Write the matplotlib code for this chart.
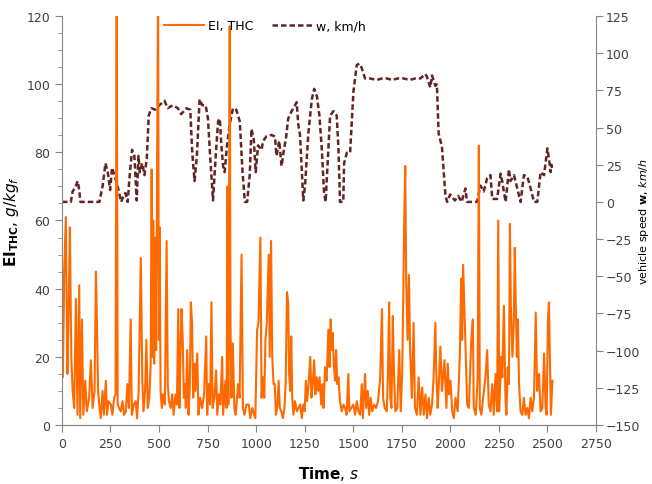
import numpy as np
import matplotlib.pyplot as plt
from matplotlib.ticker import MultipleLocator

# EI THC, g/kg_f
t_ei = [0, 5, 12, 20, 28, 35, 41, 48, 55, 63, 72, 80, 89, 94, 103, 110, 120, 128, 140, 149,
        158, 168, 175, 180, 186, 192, 200, 209, 216, 226, 232, 240, 252, 260, 269, 276, 282, 287, 294, 303,
        312, 320, 329, 337, 345, 354, 360, 370, 380, 387, 395, 406, 414, 420, 428, 435, 442, 450, 457, 462,
        466, 470, 475, 480, 485, 495, 499, 503, 508, 514, 520, 530, 539, 545, 551, 560, 568, 575, 585, 592,
        599, 605, 611, 616, 622, 628, 633, 638, 645, 652, 658, 664, 670, 676, 683, 688, 697, 703, 712, 722,
        732, 743, 748, 755, 763, 770, 776, 785, 794, 800, 808, 816, 825, 830, 836, 842, 848, 853, 857, 864,
        868, 873, 880, 888, 895, 907, 915, 925, 932, 940, 950, 962, 970, 980, 990, 996, 1005, 1012, 1022, 1028,
        1035, 1042, 1048, 1055, 1065, 1070, 1077, 1083, 1090, 1096, 1102, 1110, 1116, 1122, 1130, 1138, 1146, 1152, 1159, 1165,
        1170, 1176, 1181, 1186, 1192, 1200, 1210, 1218, 1227, 1235, 1243, 1250, 1256, 1263, 1270, 1279, 1285, 1292, 1299, 1305,
        1312, 1320, 1327, 1335, 1341, 1347, 1355, 1363, 1372, 1378, 1384, 1390, 1394, 1400, 1406, 1412, 1418, 1424, 1432, 1441,
        1450, 1458, 1466, 1475, 1480, 1490, 1500, 1510, 1518, 1527, 1536, 1544, 1550, 1561, 1567, 1575, 1582, 1590, 1598, 1608,
        1618, 1628, 1639, 1648, 1654, 1662, 1673, 1679, 1685, 1691, 1697, 1704, 1710, 1717, 1727, 1737, 1745, 1752, 1756, 1763,
        1768, 1773, 1780, 1787, 1793, 1802, 1811, 1818, 1828, 1837, 1846, 1855, 1863, 1872, 1880, 1889, 1897, 1906, 1914, 1923,
        1928, 1935, 1940, 1949, 1957, 1970, 1980, 1987, 1994, 2001, 2010, 2018, 2027, 2038, 2049, 2056, 2061, 2066, 2073, 2080,
        2087, 2096, 2107, 2116, 2121, 2131, 2141, 2147, 2152, 2160, 2169, 2181, 2190, 2198, 2207, 2216, 2224, 2233, 2241, 2247,
        2252, 2262, 2268, 2276, 2284, 2289, 2296, 2302, 2307, 2312, 2320, 2327, 2332, 2337, 2343, 2348, 2354, 2362, 2371, 2379,
        2388, 2397, 2405, 2414, 2422, 2431, 2440, 2447, 2457, 2465, 2474, 2483, 2491, 2496, 2503, 2508, 2514, 2518, 2526]
ei_thc = [54, 14, 45, 61, 15, 35, 58, 20, 10, 5, 37, 3, 41, 2, 31, 3, 13, 4, 8, 19,
          5, 10, 45, 31, 10, 6, 2, 10, 3, 13, 3, 7, 6, 3, 8, 9, 130, 6, 5, 4,
          7, 3, 4, 12, 5, 31, 3, 6, 7, 2, 10, 49, 13, 4, 10, 25, 5, 8, 18, 75,
          20, 60, 18, 55, 22, 130, 25, 58, 10, 5, 9, 6, 54, 12, 7, 5, 9, 3, 9, 6,
          34, 5, 22, 34, 25, 8, 12, 5, 22, 3, 10, 36, 30, 8, 18, 10, 21, 3, 8, 5,
          9, 26, 3, 12, 6, 36, 5, 8, 16, 3, 9, 6, 20, 3, 8, 13, 5, 70, 6, 117,
          30, 8, 24, 5, 3, 12, 8, 50, 5, 3, 6, 6, 2, 5, 3, 2, 28, 30, 55, 8,
          14, 8, 25, 30, 50, 20, 54, 20, 12, 12, 3, 6, 13, 5, 4, 2, 5, 12, 39, 36,
          15, 10, 26, 8, 3, 7, 4, 5, 6, 2, 6, 4, 13, 7, 12, 20, 8, 12, 19, 9,
          14, 10, 14, 6, 12, 5, 17, 13, 28, 17, 31, 22, 27, 18, 13, 22, 12, 14, 7, 4,
          6, 5, 3, 15, 4, 5, 6, 3, 7, 4, 3, 12, 2, 15, 5, 10, 3, 8, 4, 6,
          5, 7, 14, 34, 8, 5, 4, 15, 36, 8, 5, 32, 15, 4, 5, 22, 4, 15, 30, 61,
          76, 42, 25, 44, 22, 8, 30, 5, 3, 14, 3, 11, 3, 9, 2, 8, 3, 6, 14, 30,
          15, 5, 11, 23, 10, 19, 5, 18, 9, 13, 4, 2, 8, 4, 20, 43, 25, 47, 33, 18,
          6, 5, 24, 31, 5, 3, 14, 82, 5, 3, 8, 14, 22, 6, 4, 12, 3, 15, 4, 60,
          4, 20, 14, 35, 8, 3, 17, 12, 59, 35, 20, 30, 52, 36, 20, 31, 12, 4, 3, 8,
          3, 5, 2, 8, 4, 8, 33, 10, 15, 4, 5, 21, 5, 3, 31, 36, 15, 3, 13]

# vehicle speed w, km/h
t_w = [0, 46, 55, 69, 81, 89, 95, 193, 210, 224, 236, 248, 258, 270, 282, 293, 305, 314, 327, 339,
       347, 361, 373, 385, 394, 401, 413, 425, 437, 447, 460, 480, 502, 528, 545, 571, 597, 614, 640, 661,
       671, 683, 695, 709, 723, 740, 752, 764, 778, 792, 804, 813, 821, 830, 838, 850, 864, 881, 898, 916,
       930, 942, 954, 967, 976, 988, 998, 1010, 1028, 1036, 1053, 1079, 1097, 1105, 1119, 1131, 1143, 1153, 1165, 1183,
       1200, 1209, 1217, 1226, 1235, 1243, 1252, 1269, 1287, 1299, 1313, 1326, 1338, 1350, 1358, 1366, 1381, 1398, 1415, 1424,
       1432, 1449, 1453, 1467, 1484, 1501, 1518, 1532, 1544, 1561, 1587, 1620, 1650, 1673, 1700, 1730, 1760, 1790, 1820, 1846,
       1872, 1880, 1897, 1906, 1923, 1931, 1940, 1957, 1975, 1984, 1999, 2024, 2041, 2058, 2078, 2086, 2138, 2155, 2172, 2190,
       2207, 2216, 2241, 2259, 2267, 2285, 2302, 2310, 2328, 2345, 2362, 2379, 2397, 2414, 2431, 2448, 2465, 2483, 2500, 2508,
       2517, 2521, 2526]
speed = [0, 0, 7, 10, 14, 8, 0, 0, 11, 26, 20, 8, 23, 18, 13, 7, 0, 3, 6, 0,
         15, 35, 31, 1, 31, 20, 26, 18, 29, 58, 63, 62, 65, 68, 63, 65, 63, 59, 63, 62,
         33, 14, 31, 69, 65, 65, 56, 29, 1, 31, 54, 56, 38, 24, 20, 38, 52, 63, 62, 54,
         20, 0, 0, 18, 49, 42, 20, 38, 35, 41, 44, 45, 44, 31, 41, 24, 35, 42, 56, 61,
         65, 67, 52, 45, 22, 1, 11, 46, 69, 76, 71, 58, 36, 6, 0, 20, 58, 61, 58, 36,
         0, 0, 26, 33, 33, 74, 92, 93, 90, 83, 83, 82, 83, 83, 82, 83, 83, 82, 83, 83,
         86, 84, 77, 85, 78, 79, 46, 37, 4, 0, 5, 1, 4, 0, 9, 0, 0, 11, 7, 16,
         18, 2, 2, 19, 14, 0, 22, 14, 18, 9, 0, 18, 17, 9, 0, 0, 20, 18, 36, 29,
         20, 25, 22]

plt.rcParams['font.family'] = 'DejaVu Sans'
fig = plt.figure(figsize=(6.52, 4.85), dpi=100)
ax = fig.add_axes([0.095, 0.1216, 0.819, 0.8434])
ax2 = ax.twinx()
ax.set_zorder(ax2.get_zorder() + 1)
ax.patch.set_visible(False)

l1, = ax.plot(t_ei, ei_thc, color='#FF6A00', lw=1.5, label='EI, THC')
l2, = ax2.plot(t_w, speed, color='#632523', lw=1.8, ls=(0, (2.2, 1.2)), label='w, km/h')

ax.set_xlim(0, 2750)
ax.set_ylim(0, 120)
ax2.set_ylim(-150, 125)
ax.xaxis.set_major_locator(MultipleLocator(250))
ax.yaxis.set_major_locator(MultipleLocator(20))
ax.yaxis.set_minor_locator(MultipleLocator(5))
ax2.yaxis.set_major_locator(MultipleLocator(25))

for a in (ax, ax2):
    a.spines['top'].set_visible(False)
    for s in a.spines.values():
        s.set_color('#868686')
    a.tick_params(which='both', color='#868686', labelsize=9, labelcolor='#404040')
ax.spines['right'].set_visible(False)
ax2.spines['left'].set_visible(False)
ax.tick_params(which='major', length=5)
ax.tick_params(which='minor', length=3)
ax2.tick_params(length=5, pad=2)

ax.set_xlabel(r'$\mathbf{Time}$, $s$', fontsize=11, labelpad=10)
ax.set_ylabel(r'$\mathbf{EI_{THC}}$, $g/kg_f$', fontsize=11, labelpad=4)
ax2.set_ylabel(r'vehicle speed $\mathbf{w}$, $km/h$', fontsize=8)
ax2.yaxis.set_label_coords(1.076, 0.5)

ax.legend(handles=[l1, l2], loc='upper left', bbox_to_anchor=(0.17, 1.02), ncol=2,
          frameon=False, fontsize=9, handlelength=3.2, columnspacing=1.5, handletextpad=0.3)

fig.savefig('out.png', dpi=100)
